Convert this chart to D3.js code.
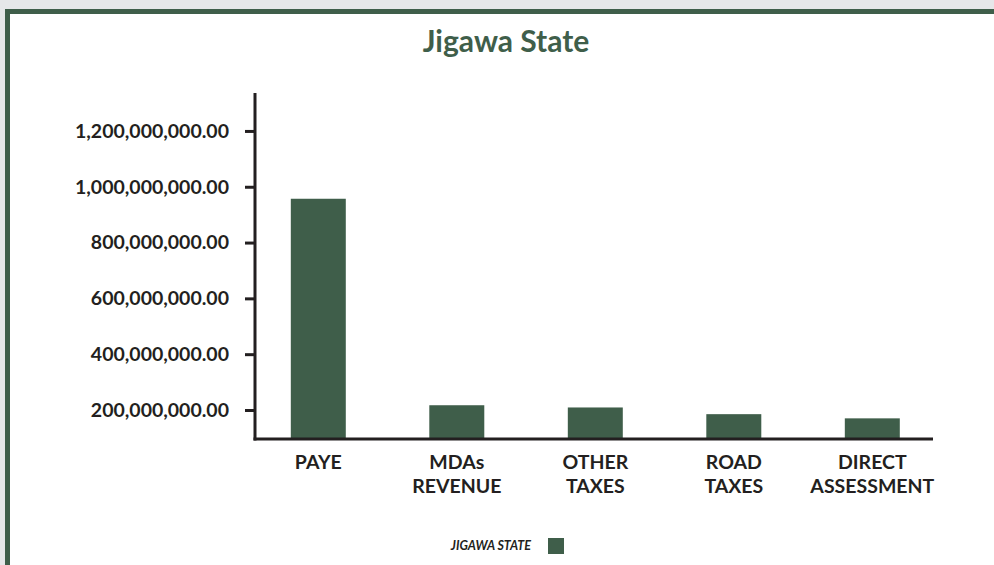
<!DOCTYPE html>
<html>
<head>
<meta charset="utf-8">
<script src="https://cdn.jsdelivr.net/npm/d3@7"></script>
<style>
  html, body { margin: 0; padding: 0; background: #e6e7e9; }
  svg { display: block; font-family: Lato, "Open Sans", sans-serif; }
</style>
</head>
<body>
<svg id="chart"></svg>
<script>
'use strict';

// Data
const categories = ['PAYE', 'MDAs\nREVENUE', 'OTHER\nTAXES', 'ROAD\nTAXES', 'DIRECT\nASSESSMENT'];
const revenue = [957000000, 217000000, 209000000, 185000000, 170000000];
const yTicks = [200000000, 400000000, 600000000, 800000000, 1000000000, 1200000000];
const seriesName = 'JIGAWA STATE';

const W = 994, H = 565;
const green = '#3f5e4a';
const ink = '#231f20';

const svg = d3.select('#chart').attr('width', W).attr('height', H);

// panel with green top/left border
svg.append('rect')
    .attr('x', 0).attr('y', 0).attr('width', W).attr('height', H)
    .attr('fill', '#e6e7e9');
svg.append('rect')
    .attr('x', 5).attr('y', 9).attr('width', W).attr('height', H)
    .attr('fill', green);
svg.append('rect')
    .attr('x', 10).attr('y', 14).attr('width', W).attr('height', H)
    .attr('fill', '#fff');

svg.append('text')
    .attr('x', 506).attr('y', 52)
    .attr('text-anchor', 'middle')
    .attr('font-size', 30)
    .attr('font-weight', 700)
    .attr('fill', green)
    .text('Jigawa State');

const axisX = 255, baseY = 439, axisTop = 93, axisRight = 933;

const y = d3.scaleLinear()
    .domain([96000000, 1336000000])
    .range([baseY, axisTop]);

const x = d3.scaleBand()
    .domain(categories)
    .range([axisX, 935.6])
    .paddingInner(0.603)
    .paddingOuter(0.2585);

// bars
svg.append('g')
    .selectAll('rect')
    .data(revenue)
    .join('rect')
    .attr('x', (d, i) => x(categories[i]))
    .attr('width', x.bandwidth())
    .attr('y', d => y(d))
    .attr('height', d => baseY - y(d))
    .attr('fill', green);

// y axis
const yAxis = d3.axisLeft(y)
    .tickValues(yTicks)
    .tickSize(10)
    .tickPadding(16)
    .tickFormat(d3.format(',.2f'));

const gy = svg.append('g')
    .attr('transform', 'translate(' + axisX + ',0)')
    .call(yAxis);
gy.select('.domain').remove();
gy.selectAll('.tick line').attr('stroke', ink).attr('stroke-width', 3);
gy.selectAll('.tick text')
    .attr('fill', ink)
    .attr('font-size', 19.5)
    .attr('font-weight', 700)
    .attr('font-family', 'Lato, sans-serif');

svg.append('line')
    .attr('x1', axisX).attr('x2', axisX)
    .attr('y1', axisTop).attr('y2', baseY + 1.5)
    .attr('stroke', ink).attr('stroke-width', 3);
svg.append('line')
    .attr('x1', axisX - 1.5).attr('x2', axisRight)
    .attr('y1', baseY).attr('y2', baseY)
    .attr('stroke', ink).attr('stroke-width', 3);

// x labels
const xLabels = svg.append('g')
    .selectAll('text')
    .data(categories)
    .join('text')
    .attr('text-anchor', 'middle')
    .attr('font-size', 19.5)
    .attr('font-weight', 700)
    .attr('fill', ink)
    .attr('transform', d => 'translate(' + (x(d) + x.bandwidth() / 2) + ',469)');
xLabels.selectAll('tspan')
    .data(d => d.split('\n'))
    .join('tspan')
    .attr('x', 0)
    .attr('dy', (d, i) => i === 0 ? 0 : 24)
    .text(d => d);

// legend
svg.append('text')
    .attr('x', 531).attr('y', 550)
    .attr('text-anchor', 'end')
    .attr('font-size', 12.5)
    .attr('font-weight', 700)
    .attr('font-style', 'italic')
    .attr('fill', ink)
    .text(seriesName);
svg.append('rect')
    .attr('x', 548).attr('y', 538)
    .attr('width', 16).attr('height', 16)
    .attr('fill', green);
</script>
</body>
</html>
